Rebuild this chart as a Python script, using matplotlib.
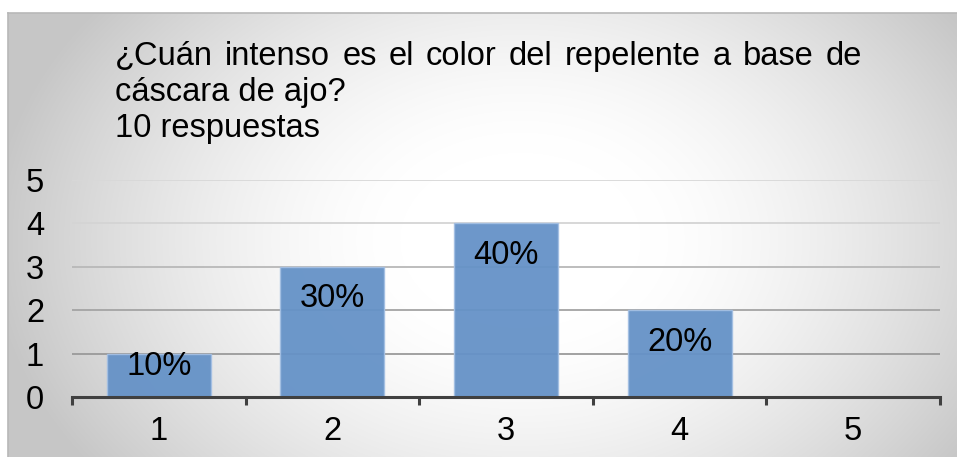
import numpy as np
import matplotlib
matplotlib.use("Agg")
import matplotlib.pyplot as plt

plt.rcParams['font.family'] = ['Liberation Sans', 'DejaVu Sans']

# Datos de la encuesta
categorias = [1, 2, 3, 4, 5]
respuestas = [1, 3, 4, 2, 0]
porcentajes = ["10%", "30%", "40%", "20%", ""]
titulo_l1 = "¿Cuán intenso es el color del repelente a base de"
titulo_l2 = "cáscara de ajo?"
titulo_l3 = "10 respuestas"

W, H = 957, 457
FS = 23.5
fig = plt.figure(figsize=(W / 100, H / 100), dpi=100)

# Fondo con degradado radial (blanco en el centro, gris en los bordes)
bg = fig.add_axes([0, 0, 1, 1])
bg.set_axis_off()
yy, xx = np.mgrid[0:H, 0:W]
r = np.sqrt(((xx - 520) / 480.0) ** 2 + ((yy - 240) / 350.0) ** 2)
t = np.clip((r - 0.25) / 0.85, 0, 1)
gris = 1 - 0.22 * t ** 1.5
img = np.dstack([gris, gris, gris])
img[:13, :, :] = 1.0
img[:, :8, :] = 1.0
bg.imshow(img, extent=(0, W, H, 0), aspect='auto', interpolation='bilinear')
bg.plot([8, W], [13, 13], color='#b8b8b8', lw=1.2)
bg.plot([8, 8], [13, H], color='#b8b8b8', lw=1.2)
bg.set_xlim(0, W)
bg.set_ylim(H, 0)

# Área del gráfico
ax = fig.add_axes([72 / W, (H - 397) / H, (940 - 72) / W, (397 - 180) / H])
ax.patch.set_alpha(0)
ax.set_xlim(0.5, 5.5)
ax.set_ylim(0, 5)

colores_grid = {1: '#9a9a9a', 2: '#a4a4a4', 3: '#b8b8b8', 4: '#d4d4d4', 5: '#d8d8d8'}
for nivel, c in colores_grid.items():
    ax.axhline(nivel, color=c, lw=1.3, zorder=1)

ax.bar(categorias, respuestas, width=0.6, color='#6592c7', edgecolor='#a3bfe3',
       lw=1, alpha=0.95, zorder=2)

for x, v, etiqueta in zip(categorias, respuestas, porcentajes):
    if etiqueta:
        ax.text(x, max(v - 0.93, 0.51), etiqueta, ha='center', va='baseline',
                fontsize=FS, color='black', zorder=3)

for lado in ['top', 'right', 'left']:
    ax.spines[lado].set_visible(False)
ax.spines['bottom'].set_color('#404040')
ax.spines['bottom'].set_linewidth(2.2)

ax.set_yticks(range(0, 6))
ax.tick_params(axis='y', length=0, pad=20, labelsize=FS)
ax.set_xticks(categorias)
ax.set_xticks(np.arange(0.5, 6, 1), minor=True)
ax.tick_params(axis='x', which='major', length=0, pad=14, labelsize=FS)
ax.tick_params(axis='x', which='minor', length=6, width=2.2, color='#404040',
               direction='out')

# Título con la primera línea justificada
renderer = fig.canvas.get_renderer()
palabras = titulo_l1.split()
izq, der = 115, 862
anchos = []
for p in palabras:
    tmp = fig.text(0, 0, p, fontsize=FS)
    anchos.append(tmp.get_window_extent(renderer).width)
    tmp.remove()
hueco = (der - izq - sum(anchos)) / (len(palabras) - 1)
x = izq
for p, w in zip(palabras, anchos):
    fig.text(x / W, 1 - 65 / H, p, fontsize=FS, va='baseline', ha='left')
    x += w + hueco
fig.text(izq / W, 1 - 101 / H, titulo_l2, fontsize=FS, va='baseline', ha='left')
fig.text(izq / W, 1 - 137 / H, titulo_l3, fontsize=FS, va='baseline', ha='left')

fig.savefig("out.png", dpi=100)
